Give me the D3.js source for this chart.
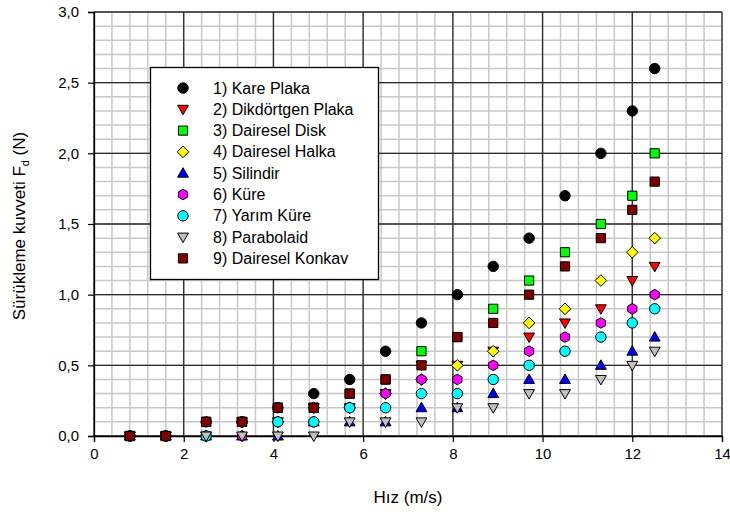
<!DOCTYPE html>
<html>
<head>
<meta charset="utf-8">
<script src="https://cdn.jsdelivr.net/npm/d3@7"></script>
<style>
  html, body { margin: 0; padding: 0; background: #fff; }
  svg { display: block; font-family: Arial, "Liberation Sans", sans-serif; }
</style>
</head>
<body>
<svg id="chart" width="730" height="514"></svg>
<script>
// Measured speeds (m/s)
const speeds = [0.8, 1.6, 2.5, 3.3, 4.1, 4.9, 5.7, 6.5, 7.3, 8.1, 8.9, 9.7, 10.5, 11.3, 12.0, 12.5];

// Drag force (N) for each body shape
const karePlaka      = [0, 0, 0.1, 0.1, 0.2, 0.3, 0.4, 0.6, 0.8, 1.0, 1.2, 1.4, 1.7, 2.0, 2.3, 2.6];
const dikdortgen     = [0, 0, 0, 0.1, 0.1, 0.2, 0.2, 0.3, 0.5, 0.5, 0.6, 0.7, 0.8, 0.9, 1.1, 1.2];
const daireselDisk   = [0, 0, 0.1, 0.1, 0.2, 0.2, 0.3, 0.4, 0.6, 0.7, 0.9, 1.1, 1.3, 1.5, 1.7, 2.0];
const daireselHalka  = [0, 0, 0, 0.1, 0.1, 0.2, 0.2, 0.3, 0.4, 0.5, 0.6, 0.8, 0.9, 1.1, 1.3, 1.4];
const silindir       = [0, 0, 0, 0, 0, 0.1, 0.1, 0.1, 0.2, 0.2, 0.3, 0.4, 0.4, 0.5, 0.6, 0.7];
const kure           = [0, 0, 0, 0, 0.1, 0.1, 0.2, 0.3, 0.4, 0.4, 0.5, 0.6, 0.7, 0.8, 0.9, 1.0];
const yarimKure      = [0, 0, 0, 0.1, 0.1, 0.1, 0.2, 0.2, 0.3, 0.3, 0.4, 0.5, 0.6, 0.7, 0.8, 0.9];
const parabolaid     = [0, 0, 0, 0, 0, 0, 0.1, 0.1, 0.1, 0.2, 0.2, 0.3, 0.3, 0.4, 0.5, 0.6];
const daireselKonkav = [0, 0, 0.1, 0.1, 0.2, 0.2, 0.3, 0.4, 0.5, 0.7, 0.8, 1.0, 1.2, 1.4, 1.6, 1.8];

const seriesNames = [
  "1) Kare Plaka", "2) Dikdörtgen Plaka", "3) Dairesel Disk", "4) Dairesel Halka",
  "5) Silindir", "6) Küre", "7) Yarım Küre", "8) Parabolaid", "9) Dairesel Konkav"
];
const seriesValues = [karePlaka, dikdortgen, daireselDisk, daireselHalka, silindir, kure, yarimKure, parabolaid, daireselKonkav];
const seriesShapes = ["circle", "triDown", "square", "diamond", "triUp", "hexagon", "circle", "triDown", "square"];
const seriesColors = ["#000000", "#ff0000", "#00ff00", "#ffff00", "#0000ff", "#ff00ff", "#00ffff", "#c0c0c0", "#800000"];

const xTicks = [0, 2, 4, 6, 8, 10, 12, 14];
const yTicks = [0, 0.5, 1.0, 1.5, 2.0, 2.5, 3.0];

const svg = d3.select("#chart");
const plot = { left: 94, right: 722, top: 12, bottom: 436 };

const x = d3.scaleLinear().domain([0, 14]).range([plot.left, plot.right]);
const y = d3.scaleLinear().domain([0, 3]).range([plot.bottom, plot.top]);

// Minor grid
const g = svg.append("g");
d3.range(0, 14.0001, 0.4).forEach(v => {
  g.append("line").attr("x1", x(v)).attr("x2", x(v)).attr("y1", plot.top).attr("y2", plot.bottom)
    .attr("stroke", "#c8c8c8").attr("stroke-width", 1.5);
});
d3.range(0, 3.0001, 0.1).forEach(v => {
  g.append("line").attr("x1", plot.left).attr("x2", plot.right).attr("y1", y(v)).attr("y2", y(v))
    .attr("stroke", "#c8c8c8").attr("stroke-width", 1.5);
});
// Major grid
xTicks.forEach(v => {
  g.append("line").attr("x1", x(v)).attr("x2", x(v)).attr("y1", plot.top).attr("y2", plot.bottom)
    .attr("stroke", "#2a2a2a").attr("stroke-width", 1.3);
});
yTicks.forEach(v => {
  g.append("line").attr("x1", plot.left).attr("x2", plot.right).attr("y1", y(v)).attr("y2", y(v))
    .attr("stroke", "#2a2a2a").attr("stroke-width", 1.3);
});

// Axes
const fmt = d => d3.format(".1f")(d).replace(".", ",");
const yAxis = svg.append("g").attr("transform", `translate(${plot.left},0)`)
  .call(d3.axisLeft(y).tickValues(yTicks).tickFormat(fmt).tickSize(6).tickPadding(9));
const xAxis = svg.append("g").attr("transform", `translate(0,${plot.bottom})`)
  .call(d3.axisBottom(x).tickValues(xTicks).tickFormat(d3.format("d")).tickSize(6).tickPadding(6));
[xAxis, yAxis].forEach(a => {
  a.select(".domain").attr("stroke", "#000").attr("stroke-width", 1.3);
  a.selectAll(".tick line").attr("stroke", "#000").attr("stroke-width", 1.2);
  a.selectAll(".tick text").attr("font-size", 15).attr("fill", "#000")
    .attr("font-family", "Arial, 'Liberation Sans', sans-serif");
});

// Axis titles
svg.append("text").attr("x", x(7)).attr("y", 503).attr("text-anchor", "middle")
  .attr("font-size", 17).text("Hız (m/s)");
const yt = svg.append("text").attr("transform", `translate(25,${(plot.top + plot.bottom) / 2 + 2}) rotate(-90)`)
  .attr("text-anchor", "middle").attr("font-size", 17);
yt.append("tspan").text("Sürükleme kuvveti F");
yt.append("tspan").attr("font-size", 11).attr("dy", 4).text("d");
yt.append("tspan").attr("dy", -4).text(" (N)");

// Marker shapes
function shapePath(shape) {
  const p = d3.path();
  if (shape === "circle") { p.arc(0, 0, 5.2, 0, 2 * Math.PI); }
  else if (shape === "square") { p.rect(-4.6, -4.6, 9.2, 9.2); }
  else if (shape === "diamond") { p.moveTo(0, -5.8); p.lineTo(5.8, 0); p.lineTo(0, 5.8); p.lineTo(-5.8, 0); p.closePath(); }
  else if (shape === "triUp") { p.moveTo(0, -5.5); p.lineTo(5.4, 4); p.lineTo(-5.4, 4); p.closePath(); }
  else if (shape === "triDown") { p.moveTo(0, 5.5); p.lineTo(5.4, -4); p.lineTo(-5.4, -4); p.closePath(); }
  else if (shape === "hexagon") {
    for (let i = 0; i < 6; i++) {
      const a = Math.PI / 6 + i * Math.PI / 3;
      const px = 5.3 * Math.cos(a), py = 5.3 * Math.sin(a);
      if (i === 0) p.moveTo(px, py); else p.lineTo(px, py);
    }
    p.closePath();
  }
  return p.toString();
}

// Data points, series drawn in order so later ones sit on top
seriesValues.forEach((vals, si) => {
  svg.append("g").selectAll("path").data(vals).join("path")
    .attr("d", shapePath(seriesShapes[si]))
    .attr("transform", (d, i) => `translate(${x(speeds[i])},${y(d)})`)
    .attr("fill", seriesColors[si]).attr("stroke", "#000").attr("stroke-width", 1);
});

// Legend
const lg = svg.append("g");
lg.append("rect").attr("x", 150.5).attr("y", 67.5).attr("width", 228).attr("height", 212)
  .attr("fill", "#fff").attr("stroke", "#000").attr("stroke-width", 1.3);
seriesNames.forEach((name, i) => {
  const cy = 88 + i * 21.3;
  lg.append("path").attr("d", shapePath(seriesShapes[i])).attr("transform", `translate(183,${cy})`)
    .attr("fill", seriesColors[i]).attr("stroke", "#000").attr("stroke-width", 1);
  lg.append("text").attr("x", 213).attr("y", cy + 5.5).attr("font-size", 16).text(name);
});
</script>
</body>
</html>
